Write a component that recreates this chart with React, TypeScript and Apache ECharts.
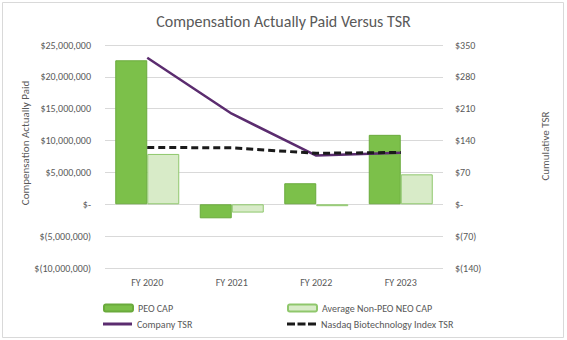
import React, { useEffect, useRef } from "react";
import * as echarts from "echarts";

const categories = ["FY 2020", "FY 2021", "FY 2022", "FY 2023"];
const peoCap = [22600000, -2200000, 3300000, 10900000];
const neoCap = [7900000, -1300000, -300000, 4700000];
const companyTsr = [322, 199, 107, 113];
const nasdaqTsr = [125, 124, 112, 114];

const FONT = "Carlito, Lato, 'Open Sans', sans-serif";
const TXT = "#595959";

function fmtMoney(v: number): string {
  if (v === 0) return "$-";
  const s = Math.abs(v).toLocaleString("en-US");
  return v < 0 ? `$(${s})` : `$${s}`;
}

export default function App() {
  const ref = useRef<HTMLDivElement>(null);
  useEffect(() => {
    document.body.style.margin = "0";
    const chart = echarts.init(ref.current!, undefined, { renderer: "svg" });
    const legendText = { color: TXT, fontSize: 10, fontFamily: FONT };
    chart.setOption({
      animation: false,
      backgroundColor: "#ffffff",
      title: {
        text: "Compensation Actually Paid Versus TSR",
        left: "center",
        top: 8,
        textStyle: { color: TXT, fontSize: 16, fontWeight: "normal", fontFamily: FONT },
      },
      graphic: [
        {
          type: "rect",
          shape: { x: 2.5, y: 2.5, width: 561, height: 335 },
          style: { fill: "none", stroke: "#d9d9d9", lineWidth: 1 },
        },
        {
          type: "text",
          x: 25,
          y: 143,
          rotation: Math.PI / 2,
          style: {
            text: "Compensation Actually Paid",
            fill: TXT,
            fontSize: 11,
            fontFamily: FONT,
            align: "center",
            verticalAlign: "middle",
          },
        },
        {
          type: "text",
          x: 545,
          y: 146,
          rotation: Math.PI / 2,
          style: {
            text: "Cumulative TSR",
            fill: TXT,
            fontSize: 11,
            fontFamily: FONT,
            align: "center",
            verticalAlign: "middle",
          },
        },
      ],
      grid: { left: 105, right: 124, top: 45, bottom: 72 },
      legend: [
        { data: ["PEO CAP"], left: 98, top: 298, itemWidth: 29, itemHeight: 7, textStyle: legendText },
        { data: ["Average Non-PEO NEO CAP"], left: 282, top: 298, itemWidth: 29, itemHeight: 7, textStyle: legendText },
        {
          data: [{ name: "Company TSR", icon: "path://M0,0H29V3H0Z" }],
          left: 98,
          top: 314,
          itemWidth: 29,
          itemHeight: 3,
          textStyle: legendText,
        },
        {
          data: [
            {
              name: "Nasdaq Biotechnology Index TSR",
              icon: "path://M0,0H8V3H0Z M10.5,0H18.5V3H10.5Z M21,0H29V3H21Z",
            },
          ],
          left: 282,
          top: 314,
          itemWidth: 29,
          itemHeight: 3,
          textStyle: legendText,
        },
      ],
      xAxis: {
        type: "category",
        data: categories,
        axisLine: { show: false, onZero: false },
        axisTick: { show: false },
        axisLabel: { color: TXT, fontSize: 10, fontFamily: FONT, margin: 9 },
      },
      yAxis: [
        {
          type: "value",
          min: -10000000,
          max: 25000000,
          interval: 5000000,
          axisLine: { show: false },
          axisTick: { show: false },
          splitLine: { lineStyle: { color: "#d9d9d9", width: 1 } },
          axisLabel: { color: TXT, fontSize: 10, fontFamily: FONT, margin: 14, formatter: fmtMoney },
        },
        {
          type: "value",
          min: -140,
          max: 350,
          interval: 70,
          axisLine: { show: false },
          axisTick: { show: false },
          splitLine: { show: false },
          axisLabel: { color: TXT, fontSize: 10, fontFamily: FONT, margin: 12, formatter: fmtMoney },
        },
      ],
      series: [
        {
          name: "PEO CAP",
          type: "bar",
          data: peoCap,
          barWidth: 32,
          barGap: "0%",
          itemStyle: { color: "#7cc04a", borderColor: "#6aaa3c", borderWidth: 1 },
        },
        {
          name: "Average Non-PEO NEO CAP",
          type: "bar",
          data: neoCap,
          barWidth: 32,
          barGap: "0%",
          itemStyle: { color: "#d8ebc8", borderColor: "#8fc76c", borderWidth: 1 },
        },
        {
          name: "Company TSR",
          type: "line",
          yAxisIndex: 1,
          data: companyTsr,
          symbol: "none",
          itemStyle: { color: "#5b2c6f" },
          lineStyle: { color: "#5b2c6f", width: 2.5 },
        },
        {
          name: "Nasdaq Biotechnology Index TSR",
          type: "line",
          yAxisIndex: 1,
          data: nasdaqTsr,
          symbol: "none",
          itemStyle: { color: "#1a1a1a" },
          lineStyle: { color: "#1a1a1a", width: 3, type: [7, 4] },
        },
      ],
    });
    return () => chart.dispose();
  }, []);
  return <div ref={ref} style={{ width: 567, height: 340 }} />;
}
